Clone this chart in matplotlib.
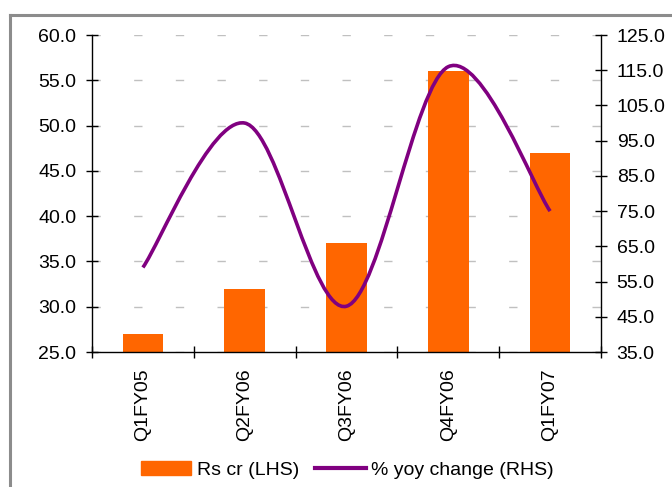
import matplotlib
matplotlib.use("Agg")
import matplotlib.pyplot as plt
import numpy as np
from matplotlib.path import Path
from matplotlib.patches import PathPatch
from matplotlib.lines import Line2D
from matplotlib.ticker import FormatStrFormatter, MultipleLocator, FixedLocator

plt.rcParams['font.family'] = ['Liberation Sans', 'DejaVu Sans']

quarters = ["Q1FY05", "Q2FY06", "Q3FY06", "Q4FY06", "Q1FY07"]
rs_cr = [27.0, 32.0, 37.0, 56.0, 47.0]
yoy_change = [59.0, 100.0, 48.0, 116.0, 75.0]
lhs_ticks = [25.0, 30.0, 35.0, 40.0, 45.0, 50.0, 55.0, 60.0]
rhs_ticks = [35.0, 45.0, 55.0, 65.0, 75.0, 85.0, 95.0, 105.0, 115.0, 125.0]

bar_color = "#FF6600"
line_color = "#800080"
fs = 14

fig = plt.figure(figsize=(6.72, 4.87), dpi=100)
ax = fig.add_axes([92 / 672, 1 - 352 / 487, (601 - 92) / 672, (352 - 35) / 487])
ax2 = ax.twinx()

x = np.arange(len(quarters))
ax.bar(x, rs_cr, width=0.4, color=bar_color, zorder=2, label="Rs cr (LHS)")

ax.set_xlim(-0.5, len(quarters) - 0.5)
ax.set_ylim(lhs_ticks[0], lhs_ticks[-1])
ax.yaxis.set_major_locator(FixedLocator(lhs_ticks))
ax.yaxis.set_major_formatter(FormatStrFormatter('%.1f'))
ax.yaxis.grid(True, color="#C0C0C0", linestyle=(0, (6, 24)), linewidth=1.0)
ax.set_axisbelow(True)

ax2.set_ylim(rhs_ticks[0], rhs_ticks[-1])
ax2.yaxis.set_major_locator(FixedLocator(rhs_ticks))
ax2.yaxis.set_major_formatter(FormatStrFormatter('%.1f'))

# Category labels at centres, tick marks at boundaries
ax.set_xticks(x)
ax.set_xticklabels(quarters, rotation=90, fontsize=fs)
ax.tick_params(axis='x', which='major', length=0, pad=12)
ax.xaxis.set_minor_locator(FixedLocator(np.arange(len(quarters) + 1) - 0.5))
ax.tick_params(axis='x', which='minor', direction='inout', length=8, width=1)

ax.tick_params(axis='y', direction='inout', length=8.5, width=1, labelsize=fs, pad=7)
ax2.tick_params(axis='y', direction='inout', length=8.5, width=1, labelsize=fs, pad=7)

for a in (ax, ax2):
    a.spines['top'].set_visible(False)
    for s in ('left', 'right', 'bottom'):
        a.spines[s].set_linewidth(1.0)
ax.spines['right'].set_visible(False)
ax2.spines['left'].set_visible(False)
ax2.spines['bottom'].set_visible(False)

# Smoothed line through the yoy points (Catmull-Rom style Bezier segments)
pts = np.column_stack([x, yoy_change]).astype(float)
verts = [tuple(pts[0])]
codes = [Path.MOVETO]
n = len(pts)
for i in range(n - 1):
    p0 = pts[max(i - 1, 0)]
    p1 = pts[i]
    p2 = pts[i + 1]
    p3 = pts[min(i + 2, n - 1)]
    c1 = p1 + (p2 - p0) / 6.0
    c2 = p2 - (p3 - p1) / 6.0
    verts += [tuple(c1), tuple(c2), tuple(p2)]
    codes += [Path.CURVE4] * 3
curve = PathPatch(Path(verts, codes), facecolor='none', edgecolor=line_color,
                  linewidth=2.6, capstyle='butt', zorder=3)
ax2.add_patch(curve)

handles = [plt.Rectangle((0, 0), 1, 1, color=bar_color),
           Line2D([], [], color=line_color, linewidth=3)]
fig.legend(handles, ["Rs cr (LHS)", "% yoy change (RHS)"], loc='center',
           bbox_to_anchor=(0.517, 0.035), ncol=2, frameon=False, fontsize=fs,
           handlelength=2.6, handleheight=0.7, handletextpad=0.3,
           columnspacing=0.8)

# Outer frame
fig.add_artist(Line2D([10 / 672, 10 / 672], [0, 1 - 15 / 487], transform=fig.transFigure,
                      color="#8C8C8C", linewidth=2.2))
fig.add_artist(Line2D([10 / 672, 1], [1 - 15 / 487, 1 - 15 / 487], transform=fig.transFigure,
                      color="#8C8C8C", linewidth=2.2))

fig.savefig("out.png", dpi=100)
